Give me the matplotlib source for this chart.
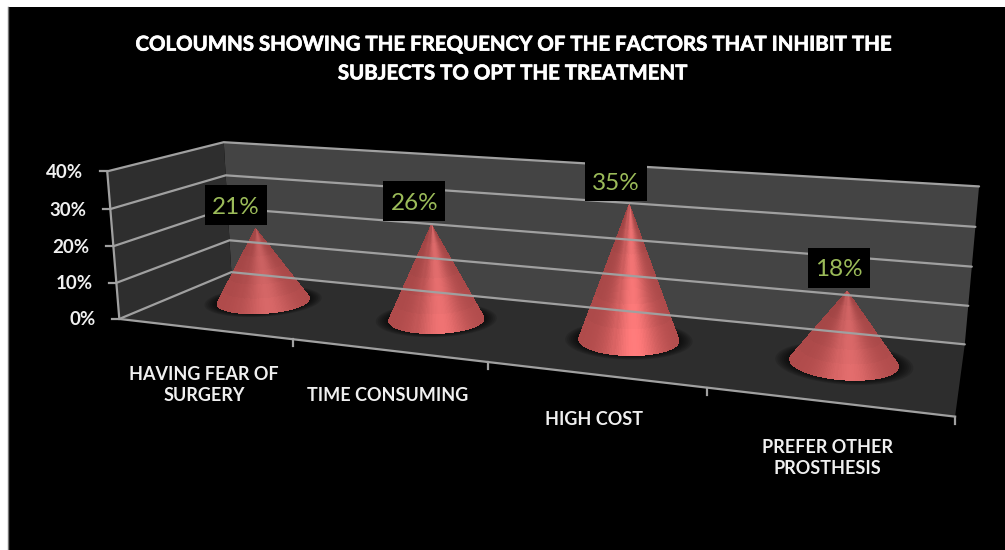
import matplotlib
matplotlib.use("Agg")
import matplotlib.pyplot as plt
import matplotlib.patheffects as pe
import numpy as np
from matplotlib.collections import PolyCollection
from matplotlib.patches import Polygon, Rectangle

plt.rcParams['font.family'] = ['Lato', 'DejaVu Sans']

categories = ["HAVING FEAR OF\nSURGERY", "TIME CONSUMING", "HIGH COST", "PREFER OTHER\nPROSTHESIS"]
values = [21, 26, 35, 18]
y_ticks = [0, 10, 20, 30, 40]
title = "COLOUMNS SHOWING THE FREQUENCY OF THE FACTORS THAT INHIBIT THE\nSUBJECTS TO OPT THE TREATMENT"
y_max = 40

# box corners as (category pos, value, depth) -> pixel, used to fit the camera
box_3d = [(0, 0, 0), (0, 40, 0), (0, 0, 1), (0, 40, 1), (4, 0, 1), (4, 40, 1), (4, 0, 0),
          (1, 0, 0), (2, 0, 0), (3, 0, 0)]
box_px = [(120, 318), (107, 171), (231, 273), (224, 142), (965, 343), (979, 187), (955, 416),
          (293, 339), (488, 363), (707, 389)]


def fit_camera(pts3, pts2):
    rows = []
    for (u, v, d), (x, y) in zip(pts3, pts2):
        p = [u, v, d, 1]
        rows.append(p + [0, 0, 0, 0] + [-x * c for c in p])
        rows.append([0, 0, 0, 0] + p + [-y * c for c in p])
    _, _, vt = np.linalg.svd(np.array(rows, dtype=float))
    return vt[-1].reshape(3, 4)


cam = fit_camera(box_3d, box_px)


def project(u, v, d):
    u, v, d = np.broadcast_arrays(u, v, d)
    p = np.stack([u, v, d, np.ones_like(u)], axis=-1).astype(float)
    q = p @ cam.T
    return q[..., 0] / q[..., 2], q[..., 1] / q[..., 2]


def quad(a, b, c, e):
    xs, ys = project(*np.array([a, b, c, e]).T)
    return np.column_stack([xs, ys])


fig = plt.figure(figsize=(10.05, 5.5), dpi=100, facecolor='white')
ax = fig.add_axes([0, 0, 1, 1])
ax.set_xlim(0, 1005)
ax.set_ylim(550, 0)
ax.axis('off')

ax.add_patch(Rectangle((8, 7), 997, 543, fc='black', ec='none'))
ax.plot([8, 8], [7, 550], color='#777777', lw=1)

# walls and floor
ax.add_patch(Polygon(quad((0, 0, 1), (0, y_max, 1), (4, y_max, 1), (4, 0, 1)), fc='#444444', ec='none'))
ax.add_patch(Polygon(quad((0, 0, 0), (0, y_max, 0), (0, y_max, 1), (0, 0, 1)), fc='#2e2e2e', ec='none'))
ax.add_patch(Polygon(quad((0, 0, 0), (0, 0, 1), (4, 0, 1), (4, 0, 0)), fc='#2d2d2d', ec='none'))

grid_color = '#a0a0a0'
for v in y_ticks:
    xs, ys = project([0, 0, 4], v, [0, 1, 1])
    ax.plot(xs, ys, color=grid_color, lw=1.6, solid_capstyle='round')
    tx, ty = project([0], v, [0])
    ax.plot([tx[0] - 7, tx[0]], [ty[0], ty[0]], color=grid_color, lw=1.6)
    ax.text(tx[0] - 24, ty[0] + 1, f"{v}%", color='#f0f0f0', ha='right', va='center',
            fontsize=13.5, fontweight='bold')

# front edges and category ticks
xs, ys = project([0, 0], [0, y_max], [0, 0])
ax.plot(xs, ys, color=grid_color, lw=1.6)
xs, ys = project([0, 4], 0, [0, 0])
ax.plot(xs, ys, color=grid_color, lw=1.6)
for i in range(1, 5):
    tx, ty = project([i], 0, [0])
    ax.plot([tx[0], tx[0]], [ty[0], ty[0] + 7], color=grid_color, lw=1.6)

for i, name in enumerate(categories):
    tx, ty = project([i + 0.5], 0, [0])
    ax.text(tx[0], ty[0] + 37, name, color='#f0f0f0', ha='center', va='top',
            fontsize=13, fontweight='bold', linespacing=1.3)

ax.text(512, 59, title, color='white', ha='center', va='center', fontsize=14.7,
        fontweight='bold', linespacing=1.55,
        path_effects=[pe.withStroke(linewidth=0.5, foreground='white')])

# cones
radius_u = 0.235
radius_d = 0.24
base_d = 0.54
label_dx = [-20, -17, -13, -8]
cone_peak = [0.84, 0.93, 1.0, 0.88]
theta = np.linspace(0, 2 * np.pi, 181)
low = np.array([0.68, 0.29, 0.29])
high = np.array([1.0, 0.48, 0.48])

for i, val in enumerate(values):
    cu = i + 0.5
    # soft shadow on the floor
    for s in np.linspace(1.28, 1.0, 8):
        sx, sy = project(cu + s * radius_u * np.cos(theta), 0, base_d + s * radius_d * np.sin(theta))
        ax.fill(sx, sy, color='black', alpha=0.12, lw=0)

    bx, by = project(cu + radius_u * np.cos(theta), 0, base_d + radius_d * np.sin(theta))
    tipx, tipy = project([cu], val, [0.5])
    tipx, tipy = tipx[0], tipy[0]
    cx = (bx.max() + bx.min()) / 2
    rx = (bx.max() - bx.min()) / 2

    polys = []
    cols = []
    order = np.argsort(-np.sin(theta[:-1] + np.diff(theta) / 2))
    steps = np.linspace(0, 1, 7)
    for j in order:
        for t0, t1 in zip(steps[:-1], steps[1:]):
            polys.append([(tipx + (bx[j] - tipx) * t0, tipy + (by[j] - tipy) * t0),
                          (tipx + (bx[j + 1] - tipx) * t0, tipy + (by[j + 1] - tipy) * t0),
                          (tipx + (bx[j + 1] - tipx) * t1, tipy + (by[j + 1] - tipy) * t1),
                          (tipx + (bx[j] - tipx) * t1, tipy + (by[j] - tipy) * t1)])
            pos = ((bx[j] + bx[j + 1]) / 2 - cx) / rx
            glow = np.exp(-((pos - 0.1) / 0.5) ** 2)
            col = low + (high * cone_peak[i] - low) * glow
            cols.append(np.clip(col * (0.9 + 0.12 * (t0 + t1) / 2), 0, 1))
    ax.add_collection(PolyCollection(polys, facecolors=cols, edgecolors=cols, linewidths=0.5,
                                     antialiaseds=False))

    box_x = tipx + label_dx[i]
    ax.add_patch(Rectangle((box_x - 31, tipy - 44), 62, 40, fc='black', ec='none', zorder=5))
    ax.text(box_x, tipy - 22, f"{val}%", color='#9bbb59', ha='center', va='center',
            fontsize=17.5, zorder=6)

fig.savefig('out.png', dpi=100, facecolor='white')
